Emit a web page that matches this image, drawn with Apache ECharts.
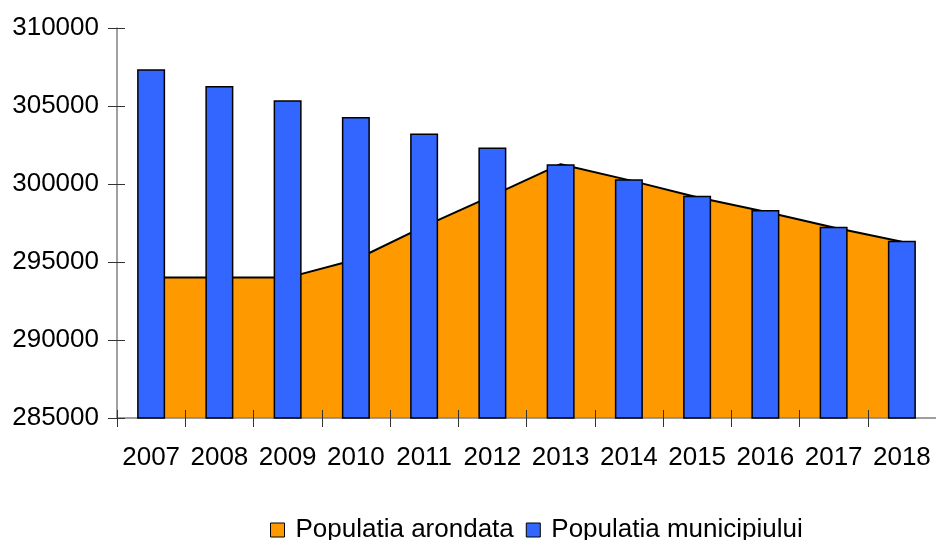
<!DOCTYPE html>
<html>
<head>
<meta charset="utf-8">
<script src="https://cdn.jsdelivr.net/npm/echarts@6/dist/echarts.min.js"></script>
<style>
  html, body { margin: 0; padding: 0; background: #fff; }
  #chart { width: 936px; height: 540px; }
</style>
</head>
<body>
<div id="chart"></div>
<script>
// ani si valori
const years = ['2007', '2008', '2009', '2010', '2011', '2012', '2013', '2014', '2015', '2016', '2017', '2018']
const populatiaArondata = [294000, 294000, 294000, 295160, 297280, 299250, 301270, 300250, 299150, 298220, 297210, 296300]
const populatiaMunicipiului = [307360, 306290, 305370, 304290, 303240, 302340, 301270, 300310, 299240, 298330, 297260, 296360]
const yMin = 285000
const yMax = 310000
const yStep = 5000

const font = 'Liberation Sans, Arial, sans-serif'

const myChart = echarts.init(document.getElementById('chart'), null, { renderer: 'canvas' })

const options = {
  backgroundColor: '#FFF',
  animation: false,
  textStyle: { fontFamily: font },
  grid: {
    left: 117,
    top: 28,
    width: 825,
    height: 390
  },
  legend: {
    left: 265,
    top: 512,
    itemWidth: 14,
    itemHeight: 14,
    itemGap: 12,
    textStyle: { fontFamily: font, fontSize: 26, color: '#000', padding: [0, 0, 0, 6] },
    itemStyle: { borderColor: '#000', borderWidth: 1 },
    data: [
      { name: 'Populatia arondata', icon: 'rect' },
      { name: 'Populatia municipiului', icon: 'rect' }
    ]
  },
  xAxis: [
    {
      type: 'category',
      data: years,
      z: 3,
      axisLine: { lineStyle: { color: '#808080', width: 1.5 } },
      axisTick: { show: true, length: 9, lineStyle: { color: '#333' } },
      axisLabel: { fontFamily: font, fontSize: 26, color: '#000', margin: 27, interval: 0 }
    },
    {
      // cruciulite: partea de sus a semnelor de pe axa X
      type: 'category',
      data: years,
      position: 'bottom',
      z: 3,
      axisLine: { show: false },
      axisTick: { show: true, inside: true, length: 8, interval: 0, lineStyle: { color: '#333' } },
      axisLabel: { show: false }
    }
  ],
  yAxis: [
    {
      type: 'value',
      min: yMin,
      max: yMax,
      interval: yStep,
      z: 3,
      splitLine: { show: false },
      axisLine: { show: true, lineStyle: { color: '#808080', width: 1.5 } },
      axisTick: { show: true, length: 9, lineStyle: { color: '#333' } },
      axisLabel: { fontFamily: font, fontSize: 26, color: '#000', margin: 18, formatter: (v) => String(v) }
    },
    {
      // partea interioara a semnelor de pe axa Y
      type: 'value',
      position: 'left',
      min: yMin,
      max: yMax,
      interval: yStep,
      z: 3,
      splitLine: { show: false },
      axisLine: { show: false },
      axisTick: { show: true, inside: true, length: 8, lineStyle: { color: '#333' } },
      axisLabel: { show: false }
    }
  ],
  series: [
    {
      name: 'Populatia arondata',
      type: 'line',
      data: populatiaArondata,
      z: 2,
      showSymbol: false,
      symbol: 'none',
      itemStyle: { color: '#FF9900', borderColor: '#000', borderWidth: 1 },
      lineStyle: { color: '#000', width: 2 },
      areaStyle: { color: '#FF9900', opacity: 1 }
    },
    {
      name: 'Populatia municipiului',
      type: 'bar',
      data: populatiaMunicipiului,
      z: 4,
      barWidth: 28,
      itemStyle: { color: '#3366FF', borderColor: '#000', borderWidth: 1.5 }
    }
  ]
}

myChart.setOption(options)
</script>
</body>
</html>
